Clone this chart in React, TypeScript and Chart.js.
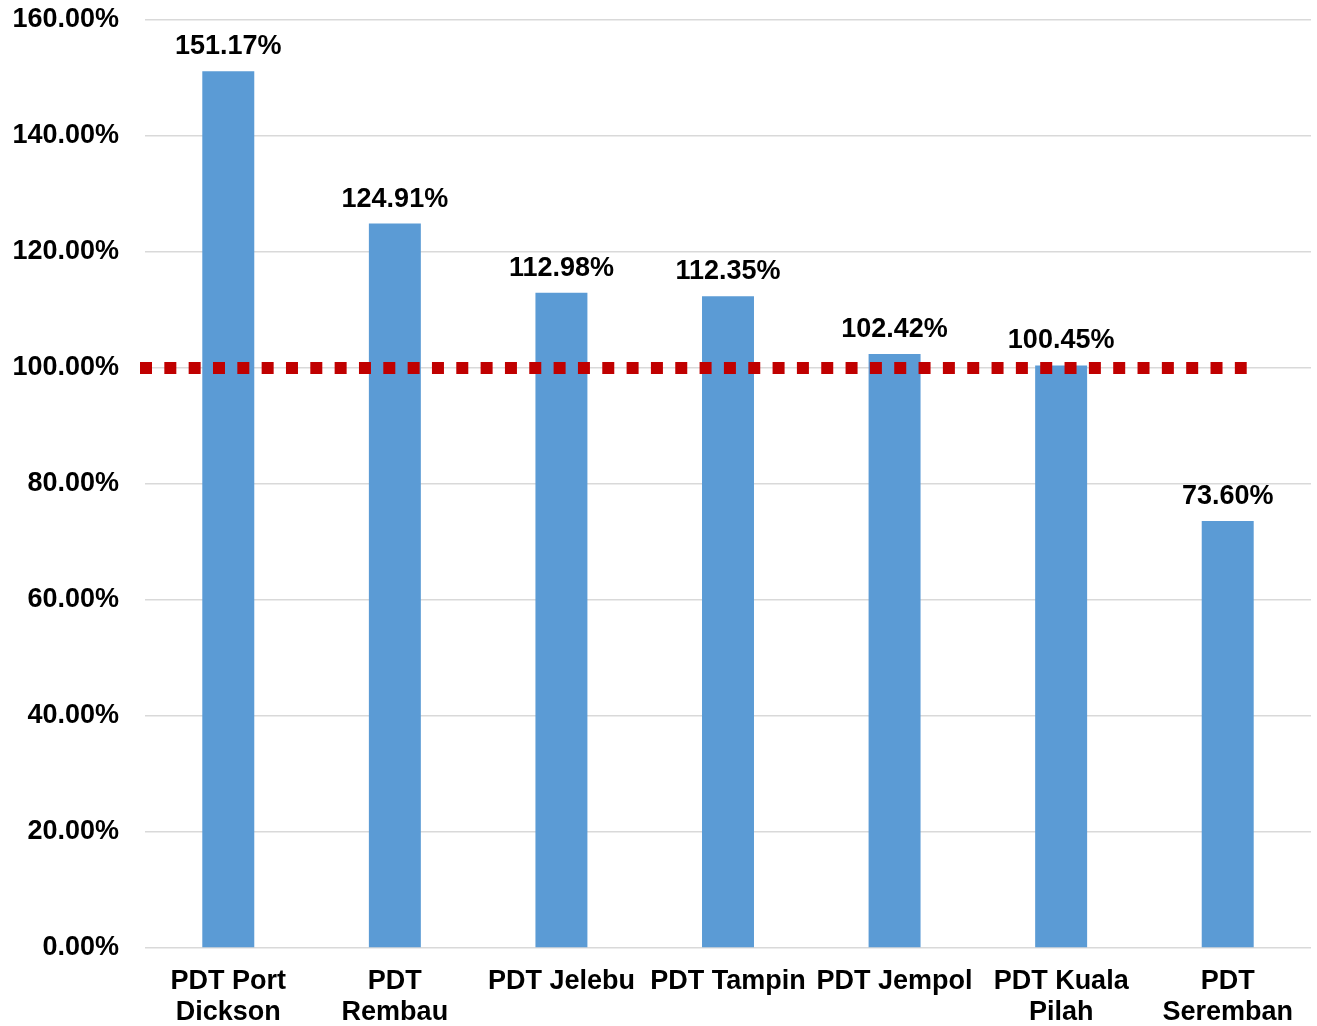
import React, { useEffect, useRef } from "react";
import { Chart, registerables } from "chart.js";

Chart.register(...registerables);

const categories: string[][] = [
  ["PDT Port", "Dickson"],
  ["PDT", "Rembau"],
  ["PDT Jelebu"],
  ["PDT Tampin"],
  ["PDT Jempol"],
  ["PDT Kuala", "Pilah"],
  ["PDT", "Seremban"],
];
const values: number[] = [151.17, 124.91, 112.98, 112.35, 102.42, 100.45, 73.6];
const threshold = 100;
const yMin = 0;
const yMax = 160;
const yStep = 20;

const FONT = "'Liberation Sans', Arial, sans-serif";

const labelPlugin = {
  id: "valueLabels",
  afterDatasetsDraw(chart: any) {
    const { ctx } = chart;
    const meta = chart.getDatasetMeta(0);
    ctx.save();
    ctx.font = `bold 27px ${FONT}`;
    ctx.fillStyle = "#000";
    ctx.textAlign = "center";
    ctx.textBaseline = "alphabetic";
    meta.data.forEach((bar: any, i: number) => {
      ctx.fillText(values[i].toFixed(2) + "%", bar.x, bar.y - 17);
    });
    ctx.restore();
  },
};

const thresholdPlugin = {
  id: "thresholdLine",
  afterDatasetsDraw(chart: any) {
    const { ctx, chartArea } = chart;
    const y = chart.scales.y.getPixelForValue(threshold);
    const xEnd = chart.scales.x.getPixelForValue(values.length - 1) + 19;
    ctx.save();
    ctx.strokeStyle = "#C00000";
    ctx.lineWidth = 12;
    ctx.lineCap = "butt";
    ctx.setLineDash([12, 12.33]);
    ctx.beginPath();
    ctx.moveTo(chartArea.left - 5, y);
    ctx.lineTo(xEnd, y);
    ctx.stroke();
    ctx.restore();
  },
};

export default function App() {
  const ref = useRef<HTMLCanvasElement | null>(null);
  useEffect(() => {
    if (!ref.current) return;
    const chart = new Chart(ref.current, {
      type: "bar",
      data: {
        labels: categories,
        datasets: [
          {
            data: values,
            backgroundColor: "#5B9BD5",
            borderWidth: 0,
            barPercentage: 0.312,
            categoryPercentage: 1,
          },
        ],
      },
      options: {
        responsive: false,
        animation: false,
        layout: { padding: { left: 0, right: 6, top: 0, bottom: 0 } },
        plugins: {
          legend: { display: false },
          tooltip: { enabled: false },
        },
        scales: {
          x: {
            grid: { display: false, drawTicks: false },
            border: { display: false },
            ticks: {
              color: "#000",
              font: { family: FONT, size: 27, weight: "bold", lineHeight: 1.15 },
              padding: 18,
              maxRotation: 0,
              autoSkip: false,
            },
            afterFit: (s: any) => {
              s.height = 78;
              s.paddingLeft = 0;
              s.paddingRight = 0;
            },
          },
          y: {
            min: yMin,
            max: yMax,
            grid: { color: "#D9D9D9", lineWidth: 1.5, drawTicks: false },
            border: { display: false },
            ticks: {
              stepSize: yStep,
              color: "#000",
              font: { family: FONT, size: 27, weight: "bold", lineHeight: 1.0 },
              padding: 26,
              callback: (v: any) => Number(v).toFixed(2) + "%",
            },
            afterFit: (s: any) => {
              s.width = 145;
              s.paddingTop = 20;
              s.paddingBottom = 0;
            },
          },
        },
      },
      plugins: [labelPlugin, thresholdPlugin],
    });
    return () => chart.destroy();
  }, []);
  return (
    <div style={{ position: "fixed", left: 0, top: 0, width: 1317, height: 1026, background: "#fff" }}>
      <canvas ref={ref} width={1317} height={1026} style={{ display: "block" }} />
    </div>
  );
}
